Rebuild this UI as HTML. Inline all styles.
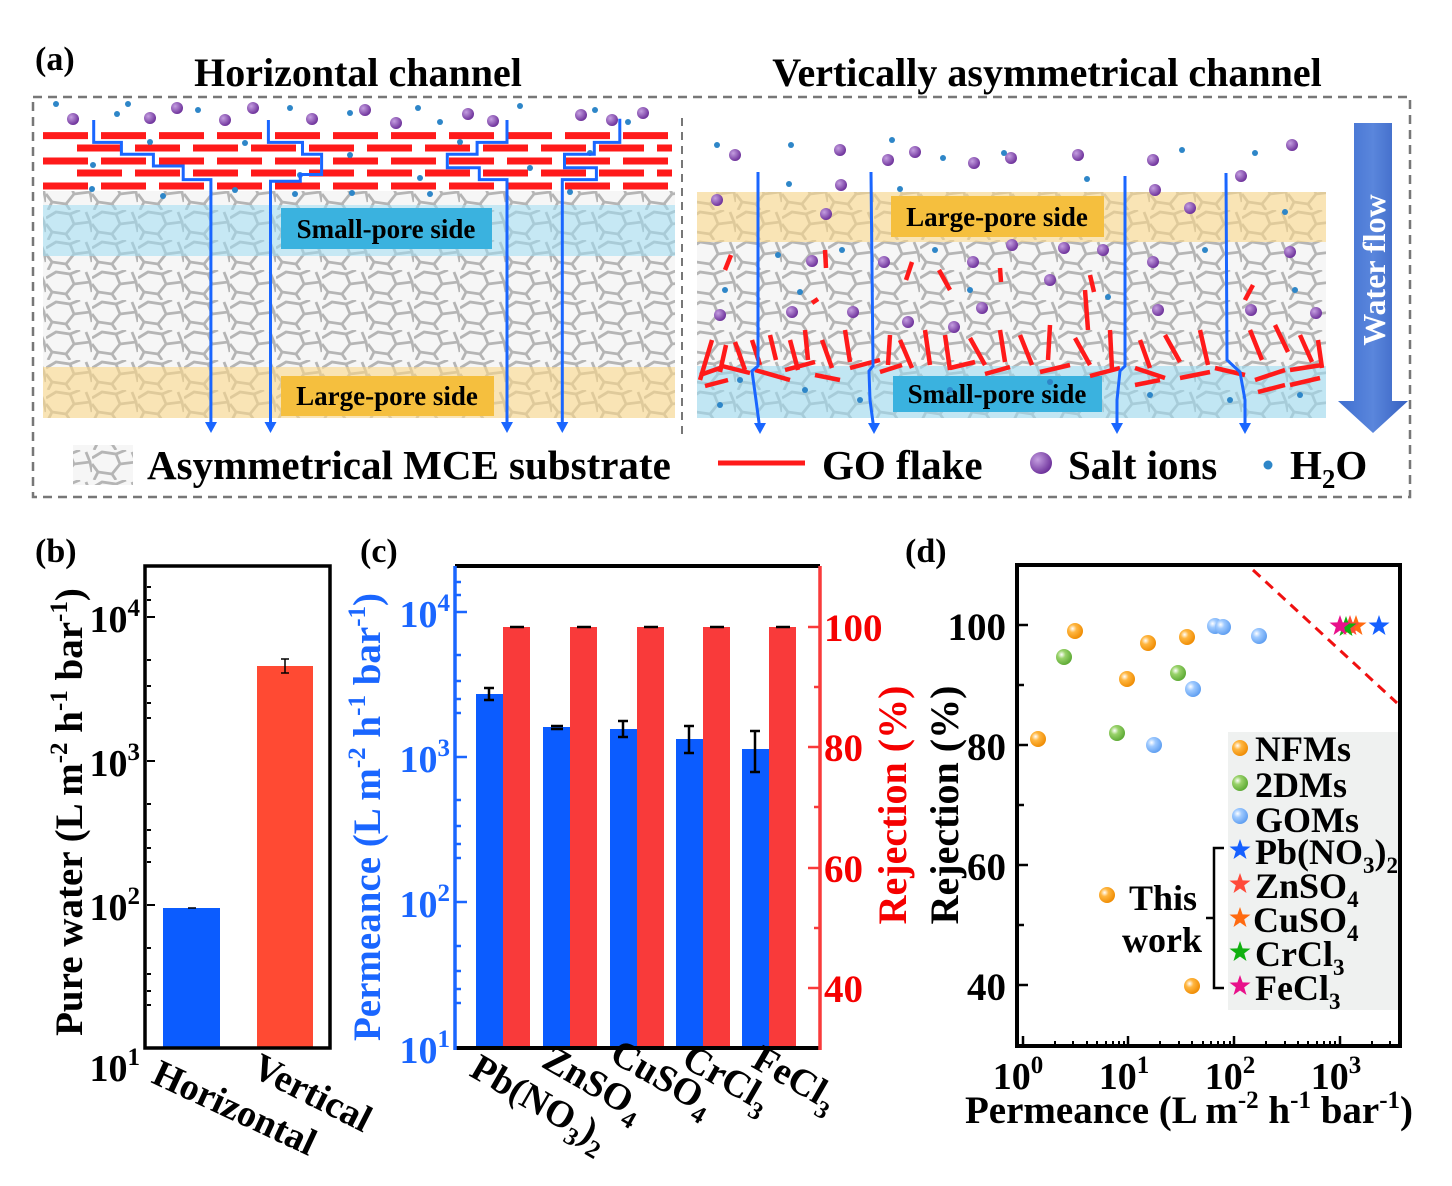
<!DOCTYPE html>
<html><head><meta charset="utf-8"><style>
html,body{margin:0;padding:0;background:#fff;}
svg{display:block;font-family:"Liberation Serif",serif;font-weight:bold;}
</style></head><body>
<svg width="1452" height="1186" viewBox="0 0 1452 1186" xmlns="http://www.w3.org/2000/svg">
<defs>
<pattern id="net" width="46" height="30" patternUnits="userSpaceOnUse">
<rect width="46" height="30" fill="#f6f6f6"/>
<path d="M0 8 L10 2 L24 4 L34 0 M24 4 L28 14 L20 24 L6 22 L0 14 M28 14 L44 12 L46 22 M20 24 L24 30 M6 22 L2 30 M44 12 L40 2" fill="none" stroke="#b5b5b5" stroke-width="2.8"/>
</pattern>
<radialGradient id="gO" cx="0.35" cy="0.35" r="0.7"><stop offset="0" stop-color="#fff"/><stop offset="0.35" stop-color="#ffb640"/><stop offset="1" stop-color="#ee8a00"/></radialGradient>
<radialGradient id="gG" cx="0.35" cy="0.35" r="0.7"><stop offset="0" stop-color="#fff"/><stop offset="0.35" stop-color="#99d26a"/><stop offset="1" stop-color="#5aa832"/></radialGradient>
<radialGradient id="gB" cx="0.35" cy="0.35" r="0.7"><stop offset="0" stop-color="#fff"/><stop offset="0.35" stop-color="#9fcaff"/><stop offset="1" stop-color="#5b9cf0"/></radialGradient>
<radialGradient id="gP" cx="0.35" cy="0.35" r="0.7"><stop offset="0" stop-color="#c49ee0"/><stop offset="1" stop-color="#6a2d98"/></radialGradient>
<linearGradient id="wf" x1="0" x2="1"><stop offset="0" stop-color="#3f6fd0"/><stop offset="0.5" stop-color="#5a86dc"/><stop offset="1" stop-color="#3560c0"/></linearGradient>
<path id="star" d="M0,-11 L2.6,-3.6 L10.5,-3.4 L4.2,1.4 L6.5,9 L0,4.5 L-6.5,9 L-4.2,1.4 L-10.5,-3.4 L-2.6,-3.6 Z"/>
</defs>

<!-- ===== Panel a ===== -->
<text x="35" y="70" font-size="34">(a)</text>
<text x="358" y="86" font-size="40" text-anchor="middle">Horizontal channel</text>
<text x="1047" y="86" font-size="40" text-anchor="middle">Vertically asymmetrical channel</text>
<rect x="33" y="97" width="1377" height="400" fill="none" stroke="#777" stroke-width="2.5" stroke-dasharray="9 6"/>
<line x1="682" y1="118" x2="682" y2="437" stroke="#777" stroke-width="2" stroke-dasharray="8 6"/>

<!-- left membrane -->
<rect x="43" y="191" width="632" height="227" fill="url(#net)"/>
<rect x="43" y="205" width="632" height="51" fill="#9fdcf2" opacity="0.55"/>
<rect x="43" y="367" width="632" height="51" fill="#fbd98a" opacity="0.6"/>
<rect x="281" y="208" width="211" height="41" fill="#3ab2df"/>
<text x="386" y="238" font-size="27" text-anchor="middle">Small-pore side</text>
<rect x="281" y="376" width="213" height="40" fill="#f5bf3e"/>
<text x="387" y="405" font-size="27" text-anchor="middle">Large-pore side</text>
<g stroke="#ff1a1a" stroke-width="7">
<line x1="43" y1="135.6" x2="672" y2="135.6" stroke-dasharray="45 13"/>
<line x1="77" y1="148" x2="672" y2="148" stroke-dasharray="45 13"/>
<line x1="43" y1="161" x2="672" y2="161" stroke-dasharray="45 13"/>
<line x1="77" y1="173" x2="672" y2="173" stroke-dasharray="45 13"/>
<line x1="43" y1="186" x2="672" y2="186" stroke-dasharray="45 13"/>
</g>
<g fill="url(#gP)">
<circle cx="73" cy="119" r="6"/><circle cx="150" cy="118" r="6"/><circle cx="177" cy="108" r="6"/><circle cx="225" cy="120" r="6"/><circle cx="253" cy="108" r="6"/><circle cx="312" cy="119" r="6"/><circle cx="365" cy="110" r="6"/><circle cx="396" cy="123" r="6"/><circle cx="468" cy="114" r="6"/><circle cx="493" cy="121" r="6"/><circle cx="581" cy="115" r="6"/><circle cx="612" cy="120" r="6"/><circle cx="643" cy="113" r="6"/>
</g>
<g fill="#2e86c8">
<circle cx="56" cy="104" r="3"/><circle cx="128" cy="104" r="3"/><circle cx="117" cy="114" r="3"/><circle cx="198" cy="110" r="3"/><circle cx="290" cy="108" r="3"/><circle cx="350" cy="113" r="3"/><circle cx="418" cy="108" r="3"/><circle cx="440" cy="122" r="3"/><circle cx="520" cy="106" r="3"/><circle cx="595" cy="110" r="3"/><circle cx="628" cy="122" r="3"/><circle cx="93" cy="165" r="3"/><circle cx="150" cy="142" r="3"/><circle cx="245" cy="143" r="3"/><circle cx="300" cy="175" r="3"/><circle cx="350" cy="155" r="3"/><circle cx="420" cy="178" r="3"/><circle cx="460" cy="142" r="3"/><circle cx="530" cy="168" r="3"/><circle cx="590" cy="153" r="3"/><circle cx="92" cy="189" r="3"/><circle cx="163" cy="196" r="3"/><circle cx="235" cy="190" r="3"/><circle cx="295" cy="194" r="3"/><circle cx="352" cy="193" r="3"/><circle cx="430" cy="194" r="3"/><circle cx="570" cy="192" r="3"/>
</g>
<g fill="none" stroke="#1a66ff" stroke-width="3">
<polyline points="93.7,120 93.7,142.4 121.4,142.4 121.4,154.2 153.4,154.2 153.4,166 183.2,166 183.2,179.6 210.9,179.6 210.9,430"/>
<polyline points="268.4,120 268.4,142.4 302.5,142.4 302.5,154.2 321.6,154.2 321.6,174.5 300.3,174.5 300.3,181.3 270.5,181.3 270.5,430"/>
<polyline points="507,120 507,142.4 477.1,142.4 477.1,154.2 447.3,154.2 447.3,167.7 479.3,167.7 479.3,179.6 507,179.6 507,430"/>
<polyline points="619.8,118.7 619.8,142.4 594.3,142.4 594.3,154.2 564.5,154.2 564.5,167.7 596.4,167.7 596.4,179.6 562.3,179.6 562.3,430"/>
</g>
<g fill="#1a66ff">
<path d="M205,422 L211,433 L217,422 Z"/><path d="M264.5,422 L270.5,433 L276.5,422 Z"/><path d="M501,422 L507,433 L513,422 Z"/><path d="M556.3,422 L562.3,433 L568.3,422 Z"/>
</g>

<!-- right membrane -->
<rect x="697" y="192" width="629" height="226" fill="url(#net)"/>
<rect x="697" y="192" width="629" height="50" fill="#fbd98a" opacity="0.6"/>
<rect x="697" y="366" width="629" height="52" fill="#9fdcf2" opacity="0.6"/>
<rect x="891" y="196" width="213" height="41" fill="#f5bf3e"/>
<text x="997" y="226" font-size="27" text-anchor="middle">Large-pore side</text>
<rect x="893" y="376" width="209" height="36" fill="#3ab2df"/>
<text x="997" y="403" font-size="27" text-anchor="middle">Small-pore side</text>
<g stroke="#ff1a1a" stroke-width="4.5">
<line x1="731" y1="255" x2="725" y2="270"/><line x1="825" y1="250" x2="826" y2="268"/><line x1="912" y1="262" x2="906" y2="280"/><line x1="939" y1="270" x2="950" y2="290"/><line x1="1000" y1="268" x2="1001" y2="282"/><line x1="1090" y1="275" x2="1094" y2="292"/><line x1="1253" y1="285" x2="1245" y2="300"/><line x1="818" y1="299" x2="812" y2="303"/>
<line x1="700" y1="380" x2="712" y2="340"/><line x1="720" y1="372" x2="726" y2="345"/><line x1="735" y1="342" x2="745" y2="370"/><line x1="752" y1="340" x2="760" y2="365"/><line x1="770" y1="335" x2="776" y2="360"/><line x1="790" y1="340" x2="798" y2="370"/><line x1="805" y1="330" x2="808" y2="360"/><line x1="822" y1="340" x2="832" y2="368"/><line x1="845" y1="330" x2="850" y2="362"/><line x1="890" y1="335" x2="888" y2="365"/><line x1="900" y1="340" x2="912" y2="368"/><line x1="925" y1="330" x2="930" y2="365"/><line x1="945" y1="335" x2="950" y2="370"/><line x1="970" y1="338" x2="985" y2="365"/><line x1="1000" y1="330" x2="1005" y2="362"/><line x1="1020" y1="335" x2="1032" y2="365"/><line x1="1050" y1="325" x2="1048" y2="360"/><line x1="1075" y1="338" x2="1090" y2="365"/><line x1="1110" y1="330" x2="1112" y2="370"/><line x1="1140" y1="340" x2="1150" y2="368"/><line x1="1165" y1="335" x2="1180" y2="362"/><line x1="1200" y1="330" x2="1208" y2="365"/><line x1="1250" y1="330" x2="1262" y2="360"/><line x1="1275" y1="325" x2="1288" y2="352"/><line x1="1300" y1="335" x2="1312" y2="362"/><line x1="1318" y1="340" x2="1322" y2="368"/><line x1="1085" y1="290" x2="1088" y2="330"/>
<line x1="700" y1="375" x2="720" y2="368"/><line x1="722" y1="366" x2="750" y2="373"/><line x1="755" y1="370" x2="790" y2="380"/><line x1="785" y1="370" x2="815" y2="362"/><line x1="815" y1="375" x2="840" y2="380"/><line x1="850" y1="368" x2="880" y2="360"/><line x1="880" y1="372" x2="902" y2="365"/><line x1="950" y1="368" x2="975" y2="362"/><line x1="985" y1="374" x2="1010" y2="367"/><line x1="1040" y1="372" x2="1070" y2="365"/><line x1="1090" y1="376" x2="1120" y2="368"/><line x1="1135" y1="368" x2="1165" y2="378"/><line x1="1180" y1="378" x2="1210" y2="372"/><line x1="1215" y1="368" x2="1245" y2="375"/><line x1="1255" y1="380" x2="1285" y2="370"/><line x1="1290" y1="370" x2="1322" y2="365"/><line x1="1135" y1="385" x2="1160" y2="380"/><line x1="1258" y1="392" x2="1285" y2="385"/><line x1="1290" y1="385" x2="1320" y2="378"/><line x1="705" y1="386" x2="728" y2="380"/>
</g>
<g fill="url(#gP)">
<circle cx="735" cy="155" r="6"/><circle cx="840" cy="150" r="6"/><circle cx="888" cy="160" r="6"/><circle cx="915" cy="152" r="6"/><circle cx="974" cy="163" r="6"/><circle cx="1011" cy="158" r="6"/><circle cx="1078" cy="155" r="6"/><circle cx="1153" cy="160" r="6"/><circle cx="1292" cy="145" r="6"/><circle cx="717" cy="200" r="6"/><circle cx="841" cy="185" r="6"/><circle cx="1241" cy="176" r="6"/><circle cx="1155" cy="190" r="6"/><circle cx="826" cy="214" r="6"/><circle cx="1190" cy="208" r="6"/><circle cx="1012" cy="245" r="6"/><circle cx="1064" cy="248" r="6"/><circle cx="1103" cy="250" r="6"/><circle cx="1153" cy="262" r="6"/><circle cx="1290" cy="252" r="6"/><circle cx="812" cy="261" r="6"/><circle cx="884" cy="262" r="6"/><circle cx="973" cy="262" r="6"/><circle cx="1050" cy="280" r="6"/><circle cx="720" cy="315" r="6"/><circle cx="792" cy="312" r="6"/><circle cx="853" cy="312" r="6"/><circle cx="982" cy="308" r="6"/><circle cx="1158" cy="310" r="6"/><circle cx="1251" cy="310" r="6"/><circle cx="1316" cy="313" r="6"/><circle cx="908" cy="322" r="6"/><circle cx="954" cy="327" r="6"/>
</g>
<g fill="#2e86c8">
<circle cx="717" cy="145" r="3"/><circle cx="791" cy="145" r="3"/><circle cx="892" cy="140" r="3"/><circle cx="943" cy="158" r="3"/><circle cx="1004" cy="153" r="3"/><circle cx="1182" cy="150" r="3"/><circle cx="1255" cy="153" r="3"/><circle cx="789" cy="184" r="3"/><circle cx="900" cy="189" r="3"/><circle cx="1087" cy="179" r="3"/><circle cx="1285" cy="212" r="3"/><circle cx="778" cy="255" r="3"/><circle cx="842" cy="250" r="3"/><circle cx="935" cy="250" r="3"/><circle cx="1205" cy="250" r="3"/><circle cx="725" cy="290" r="3"/><circle cx="800" cy="292" r="3"/><circle cx="970" cy="290" r="3"/><circle cx="1108" cy="297" r="3"/><circle cx="1295" cy="290" r="3"/><circle cx="740" cy="380" r="3"/><circle cx="805" cy="390" r="3"/><circle cx="860" cy="400" r="3"/><circle cx="950" cy="390" r="3"/><circle cx="1150" cy="395" r="3"/><circle cx="1230" cy="400" r="3"/><circle cx="1300" cy="395" r="3"/><circle cx="720" cy="405" r="3"/><circle cx="1050" cy="382" r="3"/>
</g>
<g fill="none" stroke="#1a66ff" stroke-width="3">
<polyline points="758,172 758,366 752,371 756,400 760,430"/>
<polyline points="871,172 873,366 869,371 870,400 874,430"/>
<polyline points="1125,176 1125,366 1120,371 1117,400 1117,430"/>
<polyline points="1226,173 1227,360 1240,372 1245,400 1245,430"/>
</g>
<g fill="#1a66ff">
<path d="M754,423 L760,434 L766,423 Z"/><path d="M868,423 L874,434 L880,423 Z"/><path d="M1111,423 L1117,434 L1123,423 Z"/><path d="M1239,423 L1245,434 L1251,423 Z"/>
</g>
<path d="M1354,123 L1392,123 L1392,401 L1408,401 L1373,433 L1338,401 L1354,401 Z" fill="url(#wf)"/>
<text x="0" y="0" font-size="32" fill="#fff" text-anchor="middle" transform="translate(1385,270) rotate(-90)">Water flow</text>

<!-- legend row a -->
<rect x="73" y="445" width="60" height="40" fill="url(#net)"/>
<text x="147" y="479" font-size="41">Asymmetrical MCE substrate</text>
<line x1="718" y1="463" x2="805" y2="463" stroke="#ff1a1a" stroke-width="5"/>
<text x="822" y="479" font-size="41">GO flake</text>
<circle cx="1041" cy="463" r="11" fill="url(#gP)"/>
<text x="1068" y="479" font-size="41">Salt ions</text>
<circle cx="1268" cy="465" r="4.5" fill="#2e86c8"/>
<text x="1290" y="479" font-size="41">H<tspan font-size="27" dy="9">2</tspan><tspan dy="-9">O</tspan></text>

<!-- ===== Panel b ===== -->
<text x="35" y="562" font-size="34">(b)</text>
<rect x="163" y="908" width="57" height="140" fill="#0b5cff"/>
<rect x="257" y="666" width="56" height="382" fill="#ff4a33"/>
<g stroke="#000" stroke-width="1.5"><line x1="285" y1="659" x2="285" y2="673"/><line x1="281" y1="659" x2="289" y2="659"/><line x1="281" y1="673" x2="289" y2="673"/><line x1="188" y1="908" x2="196" y2="908"/></g>
<g stroke="#000" stroke-width="2">
<line x1="147" y1="617" x2="155" y2="617"/><line x1="147" y1="761" x2="155" y2="761"/><line x1="147" y1="905" x2="155" y2="905"/>
<line x1="147" y1="660" x2="151" y2="660"/><line x1="147" y1="686" x2="151" y2="686"/><line x1="147" y1="703" x2="151" y2="703"/><line x1="147" y1="718" x2="151" y2="718"/><line x1="147" y1="804" x2="151" y2="804"/><line x1="147" y1="830" x2="151" y2="830"/><line x1="147" y1="848" x2="151" y2="848"/><line x1="147" y1="862" x2="151" y2="862"/><line x1="147" y1="948" x2="151" y2="948"/><line x1="147" y1="974" x2="151" y2="974"/><line x1="147" y1="991" x2="151" y2="991"/><line x1="147" y1="1005" x2="151" y2="1005"/><line x1="147" y1="600" x2="151" y2="600"/><line x1="147" y1="587" x2="151" y2="587"/>
</g>
<rect x="145" y="566" width="185" height="482" fill="none" stroke="#000" stroke-width="3.5"/>
<g font-size="38" text-anchor="end">
<text x="140" y="632">10<tspan font-size="25" dy="-16">4</tspan></text>
<text x="140" y="776">10<tspan font-size="25" dy="-16">3</tspan></text>
<text x="140" y="920">10<tspan font-size="25" dy="-16">2</tspan></text>
<text x="140" y="1081">10<tspan font-size="25" dy="-16">1</tspan></text>
</g>
<text x="0" y="0" font-size="39" text-anchor="middle" transform="translate(82,812) rotate(-90)">Pure water (L m<tspan font-size="25" dy="-15">-2</tspan><tspan dy="15"> h</tspan><tspan font-size="25" dy="-15">-1</tspan><tspan dy="15"> bar</tspan><tspan font-size="25" dy="-15">-1</tspan><tspan dy="15">)</tspan></text>
<text x="0" y="0" font-size="38" transform="translate(150,1082) rotate(25)">Horizontal</text>
<text x="0" y="0" font-size="38" transform="translate(250,1075) rotate(27)">Vertical</text>

<!-- ===== Panel c ===== -->
<text x="360" y="562" font-size="34">(c)</text>
<g fill="#0b5cff">
<rect x="476" y="694" width="27" height="354"/><rect x="543" y="727" width="27" height="321"/><rect x="610" y="729" width="27" height="319"/><rect x="676" y="739" width="27" height="309"/><rect x="742" y="749" width="27" height="299"/>
</g>
<g fill="#f93a3a">
<rect x="503" y="627" width="27" height="421"/><rect x="570" y="627" width="27" height="421"/><rect x="637" y="627" width="27" height="421"/><rect x="703" y="627" width="27" height="421"/><rect x="769" y="627" width="27" height="421"/>
</g>
<g stroke="#000" stroke-width="2.5">
<line x1="489" y1="688" x2="489" y2="700"/><line x1="484" y1="688" x2="494" y2="688"/><line x1="484" y1="700" x2="494" y2="700"/>
<line x1="551" y1="726" x2="563" y2="726"/><line x1="551" y1="729" x2="563" y2="729"/>
<line x1="623" y1="721" x2="623" y2="737"/><line x1="618" y1="721" x2="628" y2="721"/><line x1="618" y1="737" x2="628" y2="737"/>
<line x1="689" y1="726" x2="689" y2="753"/><line x1="684" y1="726" x2="694" y2="726"/><line x1="684" y1="753" x2="694" y2="753"/>
<line x1="755" y1="731" x2="755" y2="772"/><line x1="750" y1="731" x2="760" y2="731"/><line x1="750" y1="772" x2="760" y2="772"/>
<line x1="510" y1="627" x2="524" y2="627"/><line x1="577" y1="627" x2="591" y2="627"/><line x1="644" y1="627" x2="658" y2="627"/><line x1="710" y1="627" x2="724" y2="627"/><line x1="776" y1="627" x2="790" y2="627"/>
</g>
<line x1="455" y1="566" x2="820" y2="566" stroke="#000" stroke-width="4"/>
<line x1="455" y1="1048" x2="820" y2="1048" stroke="#000" stroke-width="4"/>
<line x1="455" y1="566" x2="455" y2="1050" stroke="#1a66ff" stroke-width="3.5"/>
<line x1="820" y1="566" x2="820" y2="1050" stroke="#f93a3a" stroke-width="3.5"/>
<g stroke="#1a66ff" stroke-width="2.5">
<line x1="455" y1="612" x2="467" y2="612"/><line x1="455" y1="757" x2="467" y2="757"/><line x1="455" y1="902" x2="467" y2="902"/>
<line x1="455" y1="655" x2="461" y2="655"/><line x1="455" y1="681" x2="461" y2="681"/><line x1="455" y1="699" x2="461" y2="699"/><line x1="455" y1="713" x2="461" y2="713"/><line x1="455" y1="800" x2="461" y2="800"/><line x1="455" y1="826" x2="461" y2="826"/><line x1="455" y1="844" x2="461" y2="844"/><line x1="455" y1="858" x2="461" y2="858"/><line x1="455" y1="946" x2="461" y2="946"/><line x1="455" y1="971" x2="461" y2="971"/><line x1="455" y1="989" x2="461" y2="989"/><line x1="455" y1="1003" x2="461" y2="1003"/><line x1="455" y1="595" x2="461" y2="595"/><line x1="455" y1="582" x2="461" y2="582"/>
</g>
<g stroke="#f93a3a" stroke-width="2.5">
<line x1="808" y1="627" x2="820" y2="627"/><line x1="808" y1="747" x2="820" y2="747"/><line x1="808" y1="868" x2="820" y2="868"/><line x1="808" y1="988" x2="820" y2="988"/>
<line x1="814" y1="687" x2="820" y2="687"/><line x1="814" y1="807" x2="820" y2="807"/><line x1="814" y1="928" x2="820" y2="928"/>
</g>
<g font-size="38" text-anchor="end" fill="#1a66ff">
<text x="450" y="627">10<tspan font-size="25" dy="-16">4</tspan></text>
<text x="450" y="772">10<tspan font-size="25" dy="-16">3</tspan></text>
<text x="450" y="917">10<tspan font-size="25" dy="-16">2</tspan></text>
<text x="450" y="1063">10<tspan font-size="25" dy="-16">1</tspan></text>
</g>
<text x="0" y="0" font-size="39" fill="#1a66ff" text-anchor="middle" transform="translate(380,817) rotate(-90)">Permeance (L m<tspan font-size="25" dy="-15">-2</tspan><tspan dy="15"> h</tspan><tspan font-size="25" dy="-15">-1</tspan><tspan dy="15"> bar</tspan><tspan font-size="25" dy="-15">-1</tspan><tspan dy="15">)</tspan></text>
<g font-size="39" fill="#f50000">
<text x="824" y="641">100</text><text x="824" y="761">80</text><text x="824" y="882">60</text><text x="824" y="1002">40</text>
</g>
<text x="0" y="0" font-size="40" fill="#f50000" text-anchor="middle" transform="translate(906,805) rotate(-90)">Rejection (%)</text>
<g font-size="38">
<text transform="translate(468,1075) rotate(30)">Pb(NO<tspan font-size="25" dy="10">3</tspan><tspan dy="-10">)</tspan><tspan font-size="25" dy="10">2</tspan></text>
<text transform="translate(540,1066) rotate(30)">ZnSO<tspan font-size="25" dy="10">4</tspan></text>
<text transform="translate(608,1060) rotate(30)">CuSO<tspan font-size="25" dy="10">4</tspan></text>
<text transform="translate(680,1065) rotate(30)">CrCl<tspan font-size="25" dy="10">3</tspan></text>
<text transform="translate(750,1066) rotate(30)">FeCl<tspan font-size="25" dy="10">3</tspan></text>
</g>

<!-- ===== Panel d ===== -->
<text x="905" y="562" font-size="34">(d)</text>
<rect x="1228" y="732" width="170" height="278" fill="#eff1f0"/>
<line x1="1253" y1="570" x2="1397" y2="703" stroke="#f01010" stroke-width="3" stroke-dasharray="10 7"/>
<g stroke="#000" stroke-width="2.5">
<line x1="1018" y1="625" x2="1028" y2="625"/><line x1="1018" y1="745" x2="1028" y2="745"/><line x1="1018" y1="865" x2="1028" y2="865"/><line x1="1018" y1="985" x2="1028" y2="985"/>
<line x1="1018" y1="685" x2="1024" y2="685"/><line x1="1018" y1="805" x2="1024" y2="805"/><line x1="1018" y1="925" x2="1024" y2="925"/>
<line x1="1023" y1="1046" x2="1023" y2="1036"/><line x1="1128" y1="1046" x2="1128" y2="1036"/><line x1="1234" y1="1046" x2="1234" y2="1036"/><line x1="1340" y1="1046" x2="1340" y2="1036"/>
</g>
<g stroke="#000" stroke-width="2">
<path d="M1055 1046v-5M1073 1046v-5M1087 1046v-5M1097 1046v-5M1106 1046v-5M1113 1046v-5M1119 1046v-5M1124 1046v-5M1160 1046v-5M1179 1046v-5M1192 1046v-5M1203 1046v-5M1211 1046v-5M1218 1046v-5M1224 1046v-5M1230 1046v-5M1266 1046v-5M1285 1046v-5M1298 1046v-5M1308 1046v-5M1317 1046v-5M1324 1046v-5M1330 1046v-5M1335 1046v-5M1372 1046v-5M1390 1046v-5"/>
</g>
<rect x="1017" y="565" width="383" height="481" fill="none" stroke="#000" stroke-width="4"/>
<g>
<circle cx="1075" cy="631" r="8" fill="url(#gO)"/><circle cx="1148" cy="643" r="8" fill="url(#gO)"/><circle cx="1187" cy="637" r="8" fill="url(#gO)"/><circle cx="1127" cy="679" r="8" fill="url(#gO)"/><circle cx="1038" cy="739" r="8" fill="url(#gO)"/><circle cx="1107" cy="895" r="8" fill="url(#gO)"/><circle cx="1192" cy="986" r="8" fill="url(#gO)"/><circle cx="1240" cy="748" r="8" fill="url(#gO)"/>
<circle cx="1064" cy="657" r="8" fill="url(#gG)"/><circle cx="1178" cy="673" r="8" fill="url(#gG)"/><circle cx="1117" cy="733" r="8" fill="url(#gG)"/><circle cx="1240" cy="783" r="8" fill="url(#gG)"/>
<circle cx="1215" cy="626" r="8" fill="url(#gB)"/><circle cx="1223" cy="627" r="8" fill="url(#gB)"/><circle cx="1259" cy="636" r="8" fill="url(#gB)"/><circle cx="1193" cy="689" r="8" fill="url(#gB)"/><circle cx="1154" cy="745" r="8" fill="url(#gB)"/><circle cx="1240" cy="816" r="8" fill="url(#gB)"/>
</g>
<use href="#star" x="1379" y="626" fill="#1560ff"/>
<use href="#star" x="1356" y="626" fill="#ff6a10"/>
<use href="#star" x="1350" y="626" fill="#ff4a3a"/>
<use href="#star" x="1346" y="627" fill="#10b010"/>
<use href="#star" x="1340" y="626" fill="#e8108a"/>
<use href="#star" x="1240" y="850" fill="#1560ff"/>
<use href="#star" x="1240" y="884" fill="#ff4a3a"/>
<use href="#star" x="1240" y="918" fill="#ff6a10"/>
<use href="#star" x="1240" y="952" fill="#10b010"/>
<use href="#star" x="1240" y="986" fill="#e8108a"/>
<path d="M1224,848 L1214,848 L1214,988 L1224,988 M1214,918 L1206,918" fill="none" stroke="#000" stroke-width="2.5"/>
<g font-size="36">
<text x="1255" y="761">NFMs</text>
<text x="1255" y="797">2DMs</text>
<text x="1255" y="832">GOMs</text>
<text x="1255" y="864">Pb(NO<tspan font-size="23" dy="9">3</tspan><tspan dy="-9">)</tspan><tspan font-size="23" dy="9">2</tspan></text>
<text x="1255" y="898">ZnSO<tspan font-size="23" dy="9">4</tspan></text>
<text x="1253" y="932">CuSO<tspan font-size="23" dy="9">4</tspan></text>
<text x="1255" y="966">CrCl<tspan font-size="23" dy="9">3</tspan></text>
<text x="1255" y="1000">FeCl<tspan font-size="23" dy="9">3</tspan></text>
<text x="1129" y="910">This</text>
<text x="1122" y="952">work</text>
</g>
<g font-size="39" text-anchor="end">
<text x="1006" y="640">100</text><text x="1006" y="760">80</text><text x="1006" y="880">60</text><text x="1006" y="1000">40</text>
</g>
<text x="0" y="0" font-size="40" text-anchor="middle" transform="translate(958,805) rotate(-90)">Rejection (%)</text>
<g font-size="38" text-anchor="middle">
<text x="1018" y="1089">10<tspan font-size="25" dy="-16">0</tspan></text>
<text x="1124" y="1089">10<tspan font-size="25" dy="-16">1</tspan></text>
<text x="1230" y="1089">10<tspan font-size="25" dy="-16">2</tspan></text>
<text x="1336" y="1089">10<tspan font-size="25" dy="-16">3</tspan></text>
</g>
<text x="1189" y="1123" font-size="39" text-anchor="middle">Permeance (L m<tspan font-size="25" dy="-15">-2</tspan><tspan dy="15"> h</tspan><tspan font-size="25" dy="-15">-1</tspan><tspan dy="15"> bar</tspan><tspan font-size="25" dy="-15">-1</tspan><tspan dy="15">)</tspan></text>
</svg>
</body></html>
